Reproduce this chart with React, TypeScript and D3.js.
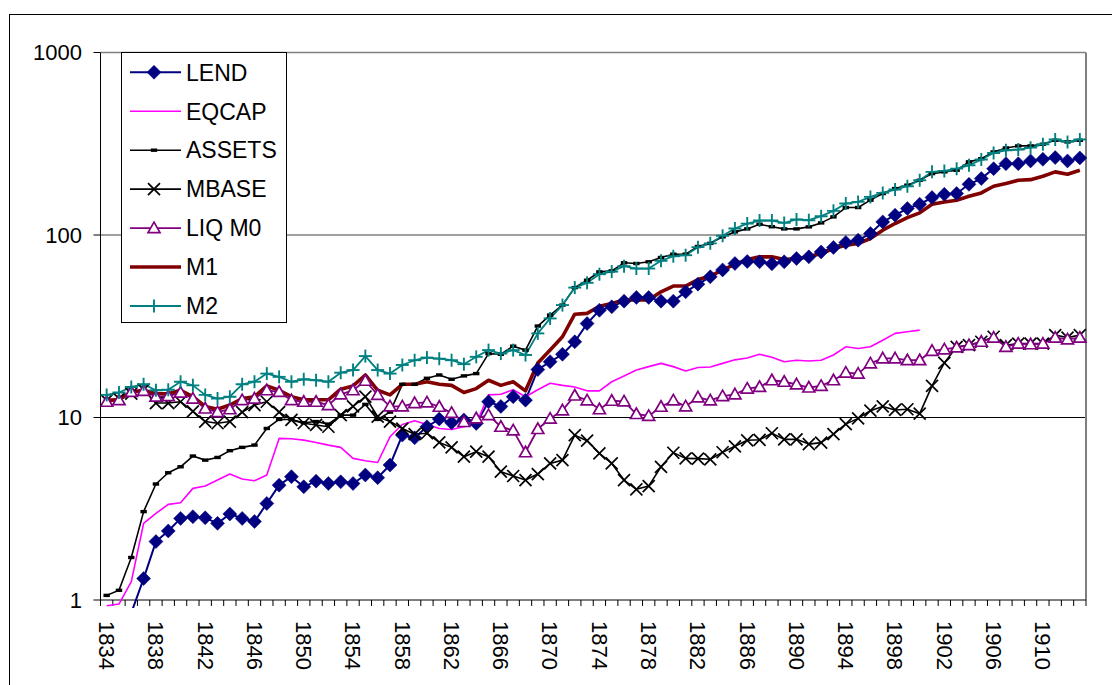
import React from "react";
import * as d3 from "d3";

const years: number[] = d3.range(1834, 1914);
const tickLabels: number[] = d3.range(1834, 1914, 4);
const yTicks: number[] = [1, 10, 100, 1000];

const lend: number[] = [
  0.5, 0.6, 0.85, 1.31, 2.09, 2.39, 2.8, 2.86, 2.82, 2.63, 2.96, 2.8, 2.69, 3.38, 4.26, 4.74, 4.17, 4.48, 4.35, 4.44,
  4.35, 4.84, 4.68, 5.49, 8.01, 7.74, 8.9, 9.8, 9.36, 9.7, 9.28, 12.2, 11.5, 13.0, 12.45, 18.3, 20.2, 22.2, 26.0, 32.7,
  38.7, 40.4, 43.4, 45.5, 45.5, 43.4, 43.4, 48.8, 53.8, 59.0, 64.4, 69.8, 71.6, 71.3, 69.5, 71.3, 74.3, 75.9, 80.8, 85.4,
  91.0, 93.7, 101.9, 118, 128.4, 139.6, 147.4, 160.4, 167, 168.7, 189.6, 203.8, 231, 246, 246, 254.6, 260, 265.7, 254.6, 264.5,
];
const eqcap: (number | null)[] = [
  0.93, 0.95, 1.26, 2.63, 2.98, 3.34, 3.41, 4.09, 4.21, 4.54, 4.9, 4.6, 4.5, 4.84, 7.68, 7.65, 7.52, 7.3, 7.06, 6.86,
  5.97, 5.8, 5.67, 7.84, 9.16, 9.6, 9.16, 8.71, 8.6, 8.9, 9.2, 13.3, 13.4, 14.2, 13.0, 14.2, 15.4, 15.0, 14.7, 14.0,
  14.0, 15.7, 16.9, 18.2, 19.0, 19.8, 19.0, 18.0, 18.8, 18.9, 19.8, 20.7, 21.2, 22.2, 21.4, 20.2, 20.6, 20.4, 20.6, 22.0,
  24.4, 23.9, 24.4, 26.5, 28.9, 29.5, 30.1, null, null, null, null, null, null, null, null, null, null, null, null, null,
];
const assets: number[] = [
  1.06, 1.13, 1.71, 3.05, 4.32, 4.98, 5.37, 6.15, 5.84, 6.04, 6.58, 6.86, 7.06, 8.71, 9.76, 9.76, 9.36, 9.5, 9.2, 10.3,
  10.3, 11.8, 9.76, 10.7, 15.2, 15.2, 16.4, 17.1, 16.2, 16.9, 17.4, 22.4, 22.2, 24.6, 23.4, 31.7, 36.4, 41.3, 51.5, 56.5,
  62.8, 63.6, 70.4, 69.8, 71.3, 75.3, 78.5, 78.5, 86.5, 90, 97.7, 104, 108, 114.6, 111, 108, 108, 110.8, 116.5, 125.7,
  141.4, 141.4, 155.2, 168.7, 179.6, 187.5, 199.5, 217, 221.8, 226.4, 251.6, 262, 285.3, 300, 307.7, 307.7, 314.3, 330.4, 323.6, 330.4,
];
const mbase: number[] = [
  12.4, 12.7, 13.5, 14.2, 12.0, 12.0, 12.2, 10.8, 9.5, 9.3, 9.5, 10.7, 11.7, 12.2, 10.7, 9.7, 9.3, 9.1, 8.9, 10.3,
  11.5, 13.0, 10.1, 9.5, 8.7, 8.1, 8.2, 7.3, 6.86, 6.1, 6.5, 6.1, 5.05, 4.78, 4.54, 4.9, 5.6, 5.84, 8.0, 7.46,
  6.36, 5.6, 4.54, 4.04, 4.21, 5.37, 6.41, 5.97, 5.95, 5.9, 6.45, 6.95, 7.5, 7.55, 8.2, 7.59, 7.59, 7.15, 7.28, 8.11,
  9.2, 9.89, 10.9, 11.5, 11.0, 11.1, 10.5, 14.9, 19.9, 24.4, 24.9, 26.0, 27.7, 24.9, 25.4, 25.4, 25.4, 28.3, 27.4, 28.3,
];
const liqM0: number[] = [
  12.2, 12.45, 13.8, 14.0, 13.0, 13.1, 13.7, 12.7, 11.2, 10.7, 11.1, 12.45, 12.7, 14.1, 13.8, 12.45, 12.2, 12.2, 11.7, 13.4,
  14.1, 15.9, 13.3, 11.5, 11.5, 12.0, 12.1, 11.45, 10.6, 9.45, 9.9, 10.3, 8.9, 8.5, 6.45, 8.65, 9.85, 10.95, 13.2, 12.4,
  11.1, 12.35, 12.25, 10.45, 10.2, 11.45, 12.4, 11.5, 12.9, 12.4, 13.1, 13.4, 14.4, 14.7, 16.0, 15.7, 15.2, 14.6, 14.9, 16.0,
  17.6, 17.4, 19.8, 21.1, 21.1, 20.6, 20.6, 23.2, 23.6, 24.2, 24.9, 26.0, 27.4, 24.4, 25.4, 25.2, 25.4, 27.4, 26.8, 27.4,
];
const m1: number[] = [
  12.45, 12.5, 13.8, 14.1, 13.5, 13.5, 14.1, 13.0, 11.5, 11.1, 11.7, 12.7, 13.0, 14.9, 14.1, 13.0, 12.5, 12.5, 12.5, 14.3,
  14.9, 17.1, 14.1, 13.3, 15.2, 15.2, 15.7, 15.2, 15.0, 13.7, 14.4, 16.0, 15.0, 15.7, 14.0, 19.9, 23.4, 27.7, 36.8, 37.2,
  40.7, 42.2, 44.0, 44.0, 44.0, 48.8, 52.5, 52.5, 57.0, 59.5, 64.4, 69.0, 73.5, 75.9, 75.9, 73.4, 74.3, 75.9, 79.1, 84.3,
  87.9, 89.8, 95.7, 106.3, 115.6, 124.6, 132.2, 147.4, 151.8, 155.2, 163, 170.1, 185, 191.3, 199.5, 201, 210, 221.8, 215.3, 226.4,
];
const m2: number[] = [
  13.3, 13.7, 14.7, 15.2, 14.1, 14.2, 15.7, 15.0, 13.3, 12.7, 13.0, 15.2, 15.7, 17.4, 16.7, 15.7, 16.2, 16.0, 15.7, 17.6,
  18.2, 21.7, 18.2, 17.4, 19.4, 20.6, 21.3, 21.0, 20.6, 19.6, 21.5, 23.4, 22.4, 23.4, 22.0, 28.9, 34.9, 41.3, 51.5, 54.7,
  61.0, 63.0, 67.5, 65.5, 65.5, 72.2, 76.5, 77.5, 85.8, 90, 99, 108.5, 115.5, 120, 120, 116.5, 121.6, 120.5, 126.8, 135.6,
  148.7, 151.8, 161.7, 170.1, 177.4, 185, 199.5, 221.8, 224.5, 231, 241, 259, 281.6, 291.3, 293.8, 301, 314, 333.5, 323.6, 333.5,
];

type MarkerKind = "diamond" | "none" | "dash" | "x" | "triangle" | "plus";
interface Series { name: string; values: (number | null)[]; color: string; width: number; marker: MarkerKind; }

const seriesList: Series[] = [
  { name: "LEND", values: lend, color: "#000080", width: 2, marker: "diamond" },
  { name: "EQCAP", values: eqcap, color: "#FF00FF", width: 1.6, marker: "none" },
  { name: "ASSETS", values: assets, color: "#000000", width: 1.6, marker: "dash" },
  { name: "MBASE", values: mbase, color: "#000000", width: 1.6, marker: "x" },
  { name: "LIQ M0", values: liqM0, color: "#800080", width: 1.8, marker: "triangle" },
  { name: "M1", values: m1, color: "#800000", width: 3.6, marker: "none" },
  { name: "M2", values: m2, color: "#008080", width: 1.8, marker: "plus" },
];

const W = 1112, H = 685;
const L = 100.5, R = 1086, T = 52.5, B = 600;
const FONT = "'Liberation Sans', Arial, sans-serif";

function Marker({ kind, x, y, color }: { kind: MarkerKind; x: number; y: number; color: string }) {
  switch (kind) {
    case "diamond":
      return <path d={`M${x},${y - 7}L${x + 7},${y}L${x},${y + 7}L${x - 7},${y}Z`} fill={color} stroke={color} strokeWidth={0.5} />;
    case "dash":
      return <rect x={x - 3.2} y={y - 1.7} width={6.4} height={3.4} fill={color} />;
    case "x":
      return (
        <g stroke={color} strokeWidth={1.7}>
          <line x1={x - 6} y1={y - 6} x2={x + 6} y2={y + 6} />
          <line x1={x - 6} y1={y + 6} x2={x + 6} y2={y - 6} />
        </g>
      );
    case "triangle":
      return <path d={`M${x},${y - 6}L${x + 6},${y + 4.5}L${x - 6},${y + 4.5}Z`} fill="#fff" stroke={color} strokeWidth={1.7} />;
    case "plus":
      return (
        <g stroke={color} strokeWidth={1.9}>
          <line x1={x - 6.5} y1={y} x2={x + 6.5} y2={y} />
          <line x1={x} y1={y - 6.5} x2={x} y2={y + 6.5} />
        </g>
      );
    default:
      return null;
  }
}

export default function App() {
  const x = d3.scaleBand<number>().domain(years).range([L, R]).padding(0);
  const bw = x.bandwidth();
  const cx = (yr: number) => (x(yr) as number) + bw / 2;
  const y = d3.scaleLog().domain([1, 1000]).range([B, T]);

  const line = d3
    .line<{ yr: number; v: number | null }>()
    .defined((d) => d.v != null)
    .x((d) => cx(d.yr))
    .y((d) => y(d.v as number));

  const tickXs = years.map((yr) => x(yr) as number).concat([R]);

  const legendRowY = (i: number) => 72.3 + i * 38.95;

  return (
    <svg width={W} height={H} style={{ position: "fixed", left: 0, top: 0, background: "#fff" }} fontFamily={FONT}>
      <defs>
        <clipPath id="plotClip">
          <rect x={L} y={T - 10} width={R - L + 10} height={B - T + 18} />
        </clipPath>
      </defs>
      <rect x={0} y={0} width={W} height={H} fill="#fff" />
      <rect x={9.5} y={14.5} width={1300} height={900} fill="none" stroke="#000" strokeWidth={1} />

      {/* gridlines */}
      {yTicks.filter((t) => t > 1).map((t) => (
        <line key={t} x1={L} x2={R} y1={y(t)} y2={y(t)} stroke={t === 10 ? "#000" : "#808080"} strokeWidth={t === 10 ? 1 : 1.6} />
      ))}
      <line x1={R} x2={R} y1={T} y2={B} stroke="#808080" strokeWidth={2} />

      {/* axes */}
      <line x1={L} x2={L} y1={T} y2={B} stroke="#000" strokeWidth={1} />
      <line x1={L} x2={R} y1={B} y2={B} stroke="#000" strokeWidth={1} />
      {tickXs.map((tx, i) => (
        <line key={i} x1={tx} x2={tx} y1={B} y2={B + 6} stroke="#000" strokeWidth={1} />
      ))}
      {yTicks.map((t) => (
        <g key={t}>
          <line x1={L - 7} x2={L} y1={y(t)} y2={y(t)} stroke="#000" strokeWidth={1} />
          <text x={82} y={y(t)} dy="0.35em" textAnchor="end" fontSize={22} fill="#000">{t}</text>
        </g>
      ))}
      {tickLabels.map((yr) => (
        <text key={yr} transform={`translate(${cx(yr)},${621}) rotate(90)`} dy="0.35em" textAnchor="start" fontSize={22} fill="#000">
          {yr}
        </text>
      ))}

      {/* series lines */}
      <g clipPath="url(#plotClip)">
        {seriesList.map((s) => (
          <path
            key={s.name}
            d={line(years.map((yr, i) => ({ yr, v: s.values[i] }))) || ""}
            fill="none"
            stroke={s.color}
            strokeWidth={s.width}
            strokeLinejoin="round"
          />
        ))}
        {seriesList.map((s) =>
          s.marker === "none" ? null : (
            <g key={s.name + "-m"}>
              {years.map((yr, i) => {
                const v = s.values[i];
                if (v == null || v < 1) return null;
                return <Marker key={yr} kind={s.marker} x={cx(yr)} y={y(v)} color={s.color} />;
              })}
            </g>
          )
        )}
      </g>

      {/* legend */}
      <rect x={121.5} y={52.5} width={165} height={270} fill="#fff" stroke="#000" strokeWidth={1} />
      {seriesList.map((s, i) => {
        const ly = legendRowY(i);
        return (
          <g key={s.name}>
            <line x1={130} x2={181} y1={ly} y2={ly} stroke={s.color} strokeWidth={s.width} />
            <Marker kind={s.marker} x={154} y={ly} color={s.color} />
            <text x={186} y={ly} dy="0.36em" fontSize={23} fill="#000">{s.name}</text>
          </g>
        );
      })}
    </svg>
  );
}
